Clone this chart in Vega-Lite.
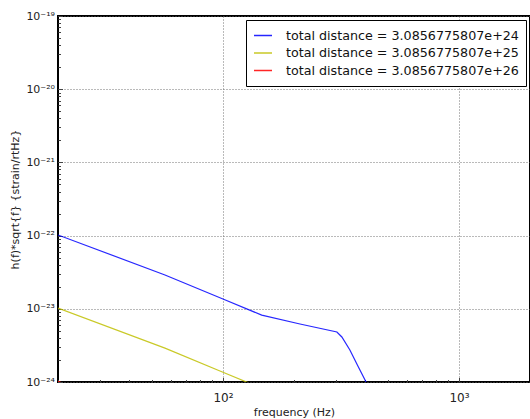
{
  "$schema": "https://vega.github.io/schema/vega-lite/v6.json",
  "autosize": {"type": "none"},
  "padding": {"left": 58, "top": 16, "right": 0, "bottom": 37},
  "width": 472,
  "height": 366,
  "background": "white",
  "config": {
    "font": "DejaVu Sans",
    "view": {"stroke": "black", "strokeWidth": 2},
    "axis": {"domain": false, "labelColor": "#222", "titleColor": "#222", "titleFontWeight": "normal", "labelFont": "DejaVu Sans", "titleFont": "DejaVu Sans"}
  },
  "data": {
    "values": [
      {"f": 20, "h": 1.02e-22, "series": "total distance = 3.0856775807e+24"},
      {"f": 56.8, "h": 2.9e-23, "series": "total distance = 3.0856775807e+24"},
      {"f": 100, "h": 1.36e-23, "series": "total distance = 3.0856775807e+24"},
      {"f": 146, "h": 8.2e-24, "series": "total distance = 3.0856775807e+24"},
      {"f": 212, "h": 6.2e-24, "series": "total distance = 3.0856775807e+24"},
      {"f": 304, "h": 4.82e-24, "series": "total distance = 3.0856775807e+24"},
      {"f": 319, "h": 4.12e-24, "series": "total distance = 3.0856775807e+24"},
      {"f": 345, "h": 2.74e-24, "series": "total distance = 3.0856775807e+24"},
      {"f": 373, "h": 1.65e-24, "series": "total distance = 3.0856775807e+24"},
      {"f": 404, "h": 1.0e-24, "series": "total distance = 3.0856775807e+24"},
      {"f": 462, "h": 4.1e-25, "series": "total distance = 3.0856775807e+24"},
      {"f": 20, "h": 1.02e-23, "series": "total distance = 3.0856775807e+25"},
      {"f": 56.8, "h": 2.9e-24, "series": "total distance = 3.0856775807e+25"},
      {"f": 100, "h": 1.36e-24, "series": "total distance = 3.0856775807e+25"},
      {"f": 146, "h": 8.2e-25, "series": "total distance = 3.0856775807e+25"},
      {"f": 212, "h": 6.2e-25, "series": "total distance = 3.0856775807e+25"},
      {"f": 304, "h": 4.82e-25, "series": "total distance = 3.0856775807e+25"},
      {"f": 20, "h": 1.02e-24, "series": "total distance = 3.0856775807e+26"},
      {"f": 56.8, "h": 2.9e-25, "series": "total distance = 3.0856775807e+26"},
      {"f": 100, "h": 1.36e-25, "series": "total distance = 3.0856775807e+26"},
      {"f": 146, "h": 8.2e-26, "series": "total distance = 3.0856775807e+26"},
      {"f": 304, "h": 4.82e-26, "series": "total distance = 3.0856775807e+26"}
    ]
  },
  "layer": [
    {
      "mark": {"type": "line", "clip": true, "strokeWidth": 1.2, "opacity": 0.85},
      "encoding": {
        "x": {
          "field": "f", "type": "quantitative",
          "scale": {"type": "log", "domain": [20, 2000], "nice": false},
          "axis": {
            "orient": "bottom",
            "title": "frequency (Hz)", "titleFontSize": 11, "titlePadding": 3,
            "values": [20,30,40,50,60,70,80,90,100,200,300,400,500,600,700,800,900,1000,2000],
            "labelExpr": "datum.value == 100 ? '10²' : datum.value == 1000 ? '10³' : ''",
            "labelFontSize": 12, "labelPadding": 15,
            "tickSize": {"condition": {"test": "abs(log(datum.value)/LN10 - round(log(datum.value)/LN10)) < 0.001", "value": -4.5}, "value": -2.5},
            "tickColor": "#444",
            "grid": true,
            "gridDash": [1, 2], "gridColor": "#666",
            "gridOpacity": {"condition": {"test": "abs(log(datum.value)/LN10 - round(log(datum.value)/LN10)) < 0.001", "value": 0.9}, "value": 0}
          }
        },
        "y": {
          "field": "h", "type": "quantitative",
          "scale": {"type": "log", "domain": [1e-24, 1e-19], "nice": false},
          "axis": {
            "orient": "left",
            "title": "h(f)*sqrt{f} {strain/rtHz}", "titleFontSize": 11, "titlePadding": 5,
            "values": [1e-24,2e-24,3e-24,4e-24,5e-24,6e-24,7e-24,8e-24,9e-24,1e-23,2e-23,3e-23,4e-23,5e-23,6e-23,7e-23,8e-23,9e-23,1e-22,2e-22,3e-22,4e-22,5e-22,6e-22,7e-22,8e-22,9e-22,1e-21,2e-21,3e-21,4e-21,5e-21,6e-21,7e-21,8e-21,9e-21,1e-20,2e-20,3e-20,4e-20,5e-20,6e-20,7e-20,8e-20,9e-20,1e-19],
            "labelExpr": "abs(log(datum.value)/LN10 - round(log(datum.value)/LN10)) > 0.001 ? '' : round(log(datum.value)/LN10) == -19 ? '10⁻¹⁹' : round(log(datum.value)/LN10) == -20 ? '10⁻²⁰' : round(log(datum.value)/LN10) == -21 ? '10⁻²¹' : round(log(datum.value)/LN10) == -22 ? '10⁻²²' : round(log(datum.value)/LN10) == -23 ? '10⁻²³' : '10⁻²⁴'",
            "labelFontSize": 11, "labelPadding": 8,
            "tickSize": {"condition": {"test": "abs(log(datum.value)/LN10 - round(log(datum.value)/LN10)) < 0.001", "value": -4.5}, "value": -2.5},
            "tickColor": "#444",
            "grid": true,
            "gridDash": [1, 2], "gridColor": "#666",
            "gridOpacity": {"condition": {"test": "abs(log(datum.value)/LN10 - round(log(datum.value)/LN10)) < 0.001", "value": 0.9}, "value": 0}
          }
        },
        "color": {
          "field": "series", "type": "nominal",
          "scale": {
            "domain": ["total distance = 3.0856775807e+24", "total distance = 3.0856775807e+25", "total distance = 3.0856775807e+26"],
            "range": ["#0000ff", "#bfbf00", "#ff0000"]
          },
          "legend": {
            "orient": "top-right", "offset": 4, "title": null,
            "symbolType": "stroke", "symbolSize": 324, "symbolStrokeWidth": 1.5,
            "labelFontSize": 12.7, "labelFont": "DejaVu Sans", "labelColor": "#111", "labelOffset": 13, "labelLimit": 400,
            "clipHeight": 17, "rowPadding": 0.5, "padding": 7,
            "strokeColor": "black", "fillColor": "white", "cornerRadius": 0
          }
        }
      }
    }
  ]
}
